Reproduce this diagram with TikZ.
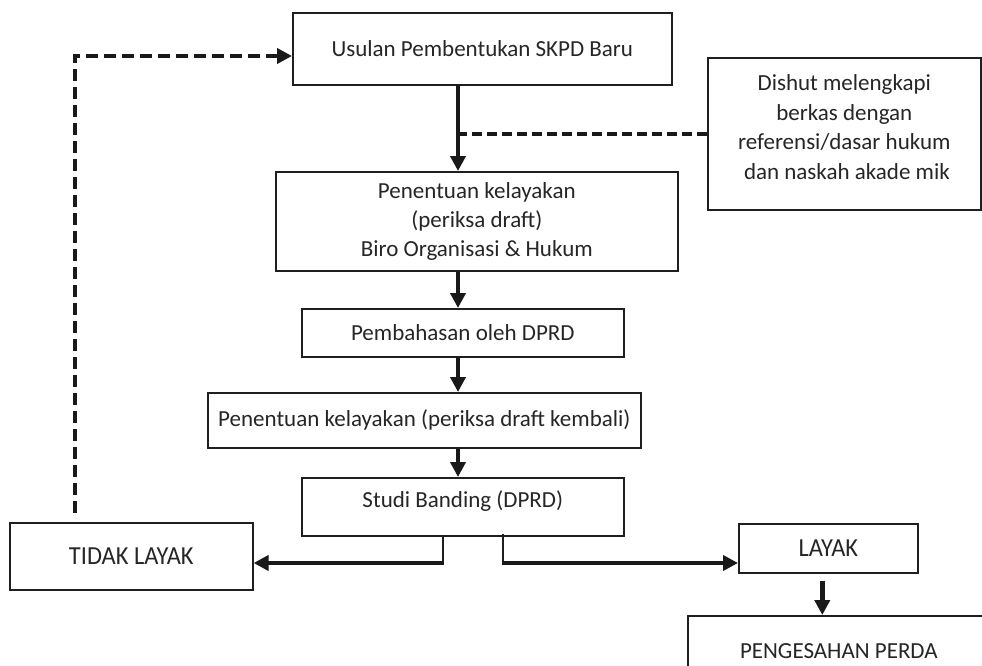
\documentclass[tikz,border=0pt]{standalone}
\usepackage{fontspec}
\setmainfont{Carlito}
\usetikzlibrary{arrows.meta,calc}
\begin{document}
\begin{tikzpicture}[x=1pt,y=-1pt,
  box/.style={draw=black!88, line width=1.6pt, rectangle, inner sep=0pt,
    anchor=north west, align=center, font=\fontsize{23}{29}\selectfont, text=black!85},
  inlabel/.style={font=\fontsize{23}{29.5}\selectfont, text=black!85, align=center, inner sep=0pt},
  bigcaps/.style={font=\fontsize{26}{30}\selectfont},
  arr/.style={line width=4.5pt, draw=black!90, -{Triangle[length=15pt,width=15pt]}},
  thinline/.style={line width=1.6pt, draw=black!88},
  loopdash/.style={line width=4pt, draw=black!90, dash pattern=on 12pt off 6pt,
    -{Triangle[length=15pt,width=15pt]}},
  sidedash/.style={line width=3.5pt, draw=black!90, dash pattern=on 10pt off 5pt}]
\useasboundingbox (0,0) rectangle (982,666);
\clip (0,0) rectangle (982,666);
\fill[white] (0,0) rectangle (982,666);

\node[box, minimum width=379pt, minimum height=72pt] (usulan) at (292,12) {Usulan Pembentukan SKPD Baru};
\node[box, minimum width=402pt, minimum height=99pt] (pen1) at (275,171) {Penentuan kelayakan\\(periksa draft)\\Biro Organisasi \& Hukum};
\node[box, minimum width=273pt, minimum height=152pt,
  label={[inlabel, yshift=6.5pt]center:Dishut melengkapi\\berkas dengan\\referensi/dasar hukum\\\ dan naskah akade mik}] (dishut) at (707,57) {};
\node[box, minimum width=322pt, minimum height=48pt] (pemb) at (301,308) {Pembahasan oleh DPRD};
\node[box, minimum width=433pt, minimum height=55pt] (pen2) at (207,392) {Penentuan kelayakan (periksa draft kembali)};
\node[box, minimum width=322pt, minimum height=58pt,
  label={[inlabel, yshift=6pt]center:Studi Banding (DPRD)}] (studi) at (301,477) {};
\node[box, bigcaps, minimum width=243pt, minimum height=67pt] (tidak) at (9,522) {\scalebox{0.94}[1]{TIDAK LAYAK}};
\node[box, bigcaps, minimum width=179pt, minimum height=49pt] (layak) at (738,523) {\scalebox{0.94}[1]{LAYAK}};
\node[box, minimum width=302pt, minimum height=70pt] (sah) at (687,615) {PENGESAHAN PERDA};

\coordinate (ax) at (458,0);
\coordinate (lx) at (443,0);
\coordinate (rx) at (503,0);
\coordinate (by) at (0,563);
\coordinate (dx) at (75,0);
\coordinate (ly) at (0,56);

% main vertical chain
\draw[arr] (usulan.south -| ax) -- (pen1.north -| ax);
\draw[arr] (pen1.south -| ax) -- (pemb.north -| ax);
\draw[arr] (pemb.south -| ax) -- (pen2.north -| ax);
\draw[arr] (pen2.south -| ax) -- (studi.north -| ax);

% dishut side dashed line
\draw[sidedash] (dishut.west) -- (dishut.west -| ax);

% split below studi
\draw[thinline] (studi.south -| lx) -- (lx |- by);
\draw[thinline] ($(studi.south -| rx)+(0,-3)$) -- (rx |- by);
\draw[arr] ($(lx |- by)+(0.8,0)$) -- (tidak.east |- by);
\draw[arr] ($(rx |- by)+(-0.8,0)$) -- (layak.west |- by);

% layak to pengesahan
\draw[arr] ($(layak.south)+(-6,7)$) -- ($(sah.north -| layak.south)+(-6,0)$);

% loop back from tidak layak
\draw[loopdash] ($(tidak.north -| dx)+(0,-9)$) -- (dx |- ly) -- (usulan.west |- ly);
\end{tikzpicture}
\end{document}
